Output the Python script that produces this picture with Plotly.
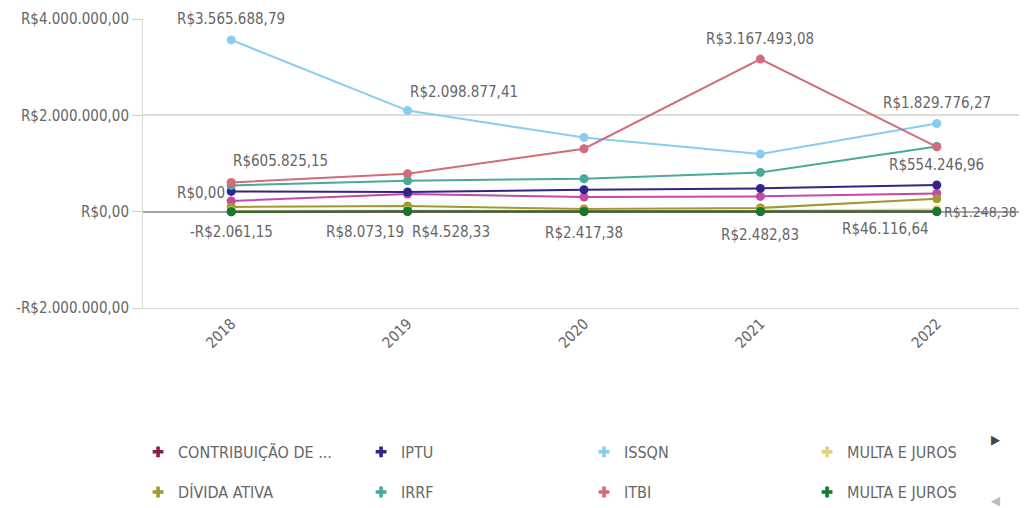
import plotly.graph_objects as go

years = ["2018", "2019", "2020", "2021", "2022"]

contribuicao = [0.0, 4528.33, 3000.0, 2500.0, 1500.0]
iptu = [421000, 408000, 456000, 483000, 554246.96]
issqn = [3565688.79, 2098877.41, 1540000, 1196000, 1829776.27]
multa_juros_a = [18000, 22000, 15000, 20000, 46116.64]
divida_ativa = [97000, 118000, 56000, 77000, 269000]
irrf = [545000, 642000, 684000, 815000, 1354000]
itbi = [605825.15, 787000, 1306000, 3167493.08, 1345000]
multa_juros_b = [-2061.15, 8073.19, 2417.38, 2482.83, 1248.38]
outros = [222000, 367000, 305000, 317000, 379000]

names = ["CONTRIBUIÇÃO DE ...", "IPTU", "ISSQN", "MULTA E JUROS",
         "DÍVIDA ATIVA", "IRRF", "ITBI", "MULTA E JUROS"]
series = [contribuicao, iptu, issqn, multa_juros_a, divida_ativa, irrf, itbi, multa_juros_b]
colors = ["#8c1d4b", "#33248c", "#87cdee", "#e2d07e", "#9c9a30", "#46ab98", "#d36b7b", "#127a2e"]

tick_vals = [-2000000, 0, 2000000, 4000000]
tick_text = ["-R$2.000.000,00", "R$0,00", "R$2.000.000,00", "R$4.000.000,00"]

FONT = "Liberation Sans Narrow, DejaVu Sans Condensed, Roboto Condensed, Arial Narrow, sans-serif"
GRAY = "#666666"

def brl(v):
    s = f"{abs(v):,.2f}".replace(",", "X").replace(".", ",").replace("X", ".")
    return ("-R$" if v < 0 else "R$") + s

fig = go.Figure()

# magenta series (on next legend page)
fig.add_trace(go.Scatter(x=years, y=outros, mode="lines+markers", name="OUTROS",
                         line=dict(color="#c24aa6", width=2), marker=dict(size=9),
                         showlegend=False))

draw_order = [4, 3, 0, 1, 5, 2, 6, 7]
for i in draw_order:
    fig.add_trace(go.Scatter(x=years, y=series[i], mode="lines+markers", name=names[i],
                             line=dict(color=colors[i], width=2), marker=dict(size=9),
                             showlegend=False))

# legend entries
for i, (n, c) in enumerate(zip(names, colors)):
    fig.add_trace(go.Scatter(x=[None], y=[None], mode="markers", name=n,
                             marker=dict(color=c, symbol="cross", size=9),
                             legend="legend" if i < 4 else "legend2"))

# labels: (series index, year index, xanchor, xshift, yshift, size)
labels = [
    (2, 0, "center", 0, 21, 15),
    (2, 1, "left", 0, 19, 15),
    (6, 0, "left", 0, 21, 15),
    (0, 0, "right", -4, 19, 15),
    (7, 0, "center", 0, -20, 15),
    (7, 1, "right", -2, -21, 15),
    (0, 1, "left", 2, -21, 15),
    (7, 2, "center", 0, -21, 15),
    (6, 3, "center", 0, 20, 15),
    (7, 3, "center", 0, -23, 15),
    (2, 4, "center", 0, 21, 15),
    (1, 4, "center", 0, 20, 15),
    (3, 4, "right", -6, -20, 15),
    (7, 4, "left", 5, 0, 14),
]
for s, yi, xa, xs, ys, fs in labels:
    v = series[s][yi]
    fig.add_annotation(x=yi, y=v, xref="x", yref="y", text=brl(v), showarrow=False,
                       xanchor=xa, yanchor="middle", xshift=xs, yshift=ys,
                       font=dict(family=FONT, size=fs, color=GRAY))

# legend paging arrows
fig.add_annotation(xref="paper", yref="paper", x=0.974, y=-0.488, text="▶", showarrow=False,
                   font=dict(size=13, color="#444444"))
fig.add_annotation(xref="paper", yref="paper", x=0.974, y=-0.70, text="◀", showarrow=False,
                   font=dict(size=13, color="#bbbbbb"))

legend_common = dict(orientation="h", xref="paper", yref="paper", x=-0.0056,
                     xanchor="left", yanchor="middle", entrywidth=178,
                     font=dict(family=FONT, size=16, color=GRAY),
                     bgcolor="rgba(0,0,0,0)", itemclick=False)

# page body has an 8px default margin; figure sized to fit the 1027x508 window
fig.update_layout(
    width=1019, height=500,
    margin=dict(l=135, r=2, t=11, b=200, autoexpand=False),
    plot_bgcolor="white", paper_bgcolor="white",
    font=dict(family=FONT, color=GRAY),
    legend=dict(y=-0.498, **legend_common),
    legend2=dict(y=-0.637, **legend_common),
    xaxis=dict(type="category", tickangle=-45, showgrid=False, showline=True,
               linecolor="#d9d9d9", linewidth=1, ticks="", automargin=False,
               tickfont=dict(family=FONT, size=15, color=GRAY), range=[-0.5, 4.5]),
    yaxis=dict(range=[-2000000, 4000000], tickvals=tick_vals, ticktext=tick_text,
               showgrid=True, gridcolor="#dcdcdc", gridwidth=1.5, automargin=False,
               zeroline=True, zerolinecolor="#a6a6a6", zerolinewidth=1.5,
               showline=True, linecolor="#d9d9d9", ticks="outside", ticklen=10,
               tickcolor="#d0d0d0", tickfont=dict(family=FONT, size=15, color=GRAY)),
)

fig.write_html("out.html")
